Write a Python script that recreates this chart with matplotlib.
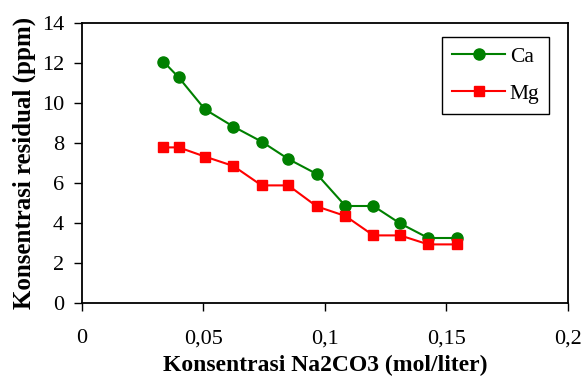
import matplotlib
matplotlib.use('Agg')
import matplotlib.pyplot as plt
from matplotlib.ticker import FuncFormatter

# data
konsentrasi = [0.0335, 0.0398, 0.0506, 0.0623, 0.0739, 0.0849,
               0.0966, 0.1084, 0.1199, 0.1309, 0.1425, 0.1542]
ca = [12.07, 11.28, 9.68, 8.82, 8.07, 7.2, 6.45, 4.85, 4.85, 3.98, 3.25, 3.25]
mg = [7.78, 7.78, 7.32, 6.85, 5.88, 5.88, 4.83, 4.35, 3.38, 3.38, 2.93, 2.93]

x_ticks = [0, 0.05, 0.1, 0.15, 0.2]
y_ticks = [0, 2, 4, 6, 8, 10, 12, 14]

plt.rcParams['font.family'] = ['Liberation Serif', 'DejaVu Serif']

fig = plt.figure(figsize=(5.84, 3.78), dpi=100)
ax = fig.add_axes([0.1404, 0.1984, 0.8322, 0.7408])

ax.plot(konsentrasi, ca, color='#008000', marker='o', markersize=8, linewidth=1.5, label='Ca')
ax.plot(konsentrasi, mg, color='#ff0000', marker='s', markersize=7.5, linewidth=1.5, label='Mg')

ax.set_xlim(0, 0.2)
ax.set_ylim(0, 14)
ax.set_xticks(x_ticks)
ax.set_yticks(y_ticks)
ax.xaxis.set_major_formatter(FuncFormatter(lambda v, p: ('%g' % v).replace('.', ',')))
ax.tick_params(direction='out', length=6, width=1, labelsize=16, colors='black')
ax.tick_params(axis='x', pad=13)
ax.tick_params(axis='y', pad=7)

for s in ax.spines.values():
    s.set_linewidth(1.3)
    s.set_color('black')

ax.set_xlabel('Konsentrasi Na2CO3 (mol/liter)', fontsize=17, fontweight='bold', labelpad=5)
ax.set_ylabel('Konsentrasi residual (ppm)', fontsize=18, fontweight='bold', labelpad=4)

leg = ax.legend(loc='upper right', bbox_to_anchor=(0.961, 0.95), fontsize=15.5,
                fancybox=False, edgecolor='black', framealpha=1, markerscale=1,
                handlelength=2.5, handletextpad=0.2, borderpad=0.45,
                labelspacing=0.8, borderaxespad=0)
leg.get_frame().set_linewidth(1)

fig.savefig('out.png', dpi=100)
